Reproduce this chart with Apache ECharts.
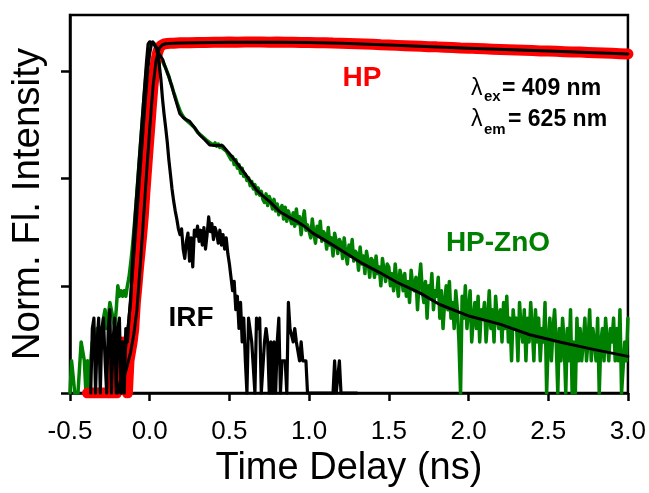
<!DOCTYPE html>
<html><head><meta charset="utf-8">
<script src="https://cdn.jsdelivr.net/npm/echarts@6/dist/echarts.min.js"></script>
<style>html,body{margin:0;padding:0;background:#fff}#c{width:649px;height:493px}</style>
</head><body><div id="c"></div>
<script>
// ---- axis ticks ----
const xTicks = [-0.5, 0.0, 0.5, 1.0, 1.5, 2.0, 2.5, 3.0];
const yTicks = [1, 10, 100, 1000];

// ---- HP-ZnO data (counts), time grid -0.50 .. 3.00 ns, 0.01 ns step ----
const znoStart = -0.5, znoStep = 0.01;
const znoCounts = [
  1,2,2,1,1,1,1,3,3,2,
  1,2,1,2,3,3,2,4,3,4,
  3,5,6,4,5,7,7,5,4,6,
  10,8,9,8,9,8,10,12,16,22,
  32,48,75,120,190,300,470,720,1050,1400,
  1700,1850,1885,1800,1680,1500,1420,1330,1250,1150,
  1080,980,900,800,720,640,580,520,470,430,
  400,380,360,370,340,350,320,330,300,290,
  270,280,255,250,240,235,225,230,215,220,
  205,215,200,210,195,205,190,195,180,170,
  170,150,160,135,150,125,135,112,125,105,
  110,96,102,86,94,80,88,72,82,70,
  76,64,60,72,56,68,62,52,64,50,
  58,46,52,56,42,54,40,50,48,38,
  48,36,52,38,44,30,41,50,33,37,
  38,28,42,31,25,36,29,40,26,32,
  30,22,35,24,28,19,31,26,20,27,
  25,18,28,20,16,24,19,27,17,21,
  20,14,23,16,19,13,21,17,12,18,
  17,12,19,13,15,10,18,14,11,16,
  15,10,13,9,16,11,8,14,12,9,
  13,8,11,7,14,10,9,12,6,11,
  16,9,7,11,5,10,8,13,6,9,
  8,12,5,9,4,7,10,6,11,5,
  7,4,9,6,3,1,8,5,10,4,
  6,9,3,5,7,4,8,3,6,5,
  7,3,5,9,4,6,3,8,5,4,
  6,3,7,4,8,3,5,2,6,4,
  5,2,7,4,3,6,2,5,3,7,
  4,2,6,3,5,2,4,3,7,1,
  3,5,2,4,6,3,1,4,2,5,
  3,1,4,2,6,1,3,1,5,2,
  4,2,3,5,2,3,6,2,4,3,
  2,5,1,3,4,2,5,3,2,4,
  3,5,2,4,2,6,1,1,3,2,
  5
];

// ---- IRF data (counts), time grid -0.37 .. 1.30 ns, 0.01 ns step ----
const irfStart = -0.37, irfStep = 0.01;
const irfCounts = [
  1,4,5,1,3,5,1,4,5,2,
  1,4,6,1,3,5,1,4,5,1,
  3,1,4,3,5,7,15,28,48,76,
  121,192,305,485,770,1225,1800,1885,1860,1820,
  1780,1700,1450,1150,850,560,400,300,220,150,
  110,80,62,50,42,34,30,34,22,18,
  26,31,17,28,15,33,29,36,26,33,
  24,35,22,30,44,32,38,27,35,31,
  25,33,24,30,22,28,20,16,12,9,
  11,6,8,4,7,3,5,2,1,5,
  5,3,3,1,5,4,5,1,1,3,
  4,3,1,3,1,3,1,3,5,1,
  2,2,2,1,7,4,4,3,4,3,
  3,2,3,2,2,2,1,1,1,1,
  1,1,1,1,1,1,1,1,1,1,
  1,1,1,2,1,1,2,1,1,1,
  1,1,1,1,1,1,1,1
];

// ---- HP data (counts): rise -0.39..0.20 (0.01 step), plateau 0.25..3.00 (0.05 step) ----
const hpRiseStart = -0.39, hpRiseStep = 0.01;
const hpRiseCounts = [
  1,1,1,1,1,1,1,1,1,1,
  1,1,1,1,1,1,1,2,1,1,
  2,3,2,3,2,1,2,2,3,4,
  7,10,15,21,30,45,75,120,190,295,
  470,720,1000,1280,1500,1650,1730,1780,1800,1810,
  1815,1820,1825,1830,1830,1835,1840,1840,1845,1845
];
const hpPlateauStart = 0.25, hpPlateauStep = 0.05;
const hpPlateauCounts = [
  1850,1860,1855,1870,1865,1875,1870,1880,1875,1880,
  1870,1875,1865,1870,1860,1855,1845,1850,1835,1830,
  1820,1810,1800,1790,1770,1760,1745,1735,1720,1710,
  1695,1690,1675,1665,1650,1645,1630,1620,1610,1600,
  1590,1580,1570,1560,1550,1545,1535,1525,1515,1510,
  1500,1490,1480,1470,1460,1450
];

// ---- fits ----
const hpFitTime = [-0.2,-0.15,-0.12,-0.1,-0.08,-0.06,-0.04,-0.02,0,0.02,0.04,0.06,0.08,0.1,0.15,0.2,0.3,0.5,0.8,1.0,1.2,1.5,2.0,2.5,3.0];
const hpFitCounts = [1,1.6,2.4,3.5,6,15,40,110,290,700,1260,1640,1770,1805,1825,1840,1850,1865,1870,1855,1830,1760,1645,1545,1450];
const znoFitTime = [-0.2,-0.16,-0.13,-0.11,-0.09,-0.07,-0.05,-0.03,-0.01,0.0,0.01,0.02,0.04,0.06,0.082,0.1,0.12,0.138,0.16,0.188,0.21,0.23,0.251,0.28,0.314,0.345,0.376,0.41,0.44,0.458,0.49,0.521,0.55,0.583,0.62,0.671,0.71,0.753,0.816,0.87,0.922,0.97,1.023,1.129,1.236,1.336,1.443,1.55,1.694,1.819,2.008,2.196,2.384,2.572,2.76,3.0];
const znoFitCounts = [1,2,5,12,30,75,190,480,1100,1450,1750,1885,1660,1445,1290,1070,890,731,560,405,370,355,342,300,255,230,206,203,203,202,178,157,138,119,100,78,69,61,49,44,40,36,31,25,19.9,16.1,13.3,10.8,8.6,6.7,5.2,4.4,3.5,3.0,2.6,2.2];

function grid(start, step, vals) { return vals.map((v, i) => [+(start + i * step).toFixed(3), v]); }
function pairs(ts, vs) { return ts.map((t, i) => [t, vs[i]]); }

const znoData = grid(znoStart, znoStep, znoCounts);
const irfData = grid(irfStart, irfStep, irfCounts);
const hpData = grid(hpRiseStart, hpRiseStep, hpRiseCounts).concat(grid(hpPlateauStart, hpPlateauStep, hpPlateauCounts));
const hpFit = pairs(hpFitTime, hpFitCounts);
const znoFit = pairs(znoFitTime, znoFitCounts);

const FONT = '"Liberation Sans", Arial, sans-serif';
const chart = echarts.init(document.getElementById('c'), null, {renderer: 'canvas'});
const line = (name, data, color, width, z) => ({
  type: 'line', name, data, showSymbol: false, symbol: 'none', z,
  lineStyle: {color, width, join: 'round', cap: 'round'}, emphasis: {disabled: true}, silent: true
});
chart.setOption({
  animation: false,
  backgroundColor: '#fff',
  grid: {left: 70, right: 20, top: 15, bottom: 93, show: true, borderColor: '#000', borderWidth: 2.5, backgroundColor: 'transparent'},
  xAxis: {
    type: 'value', min: -0.5, max: 3.0, interval: 0.5,
    axisLine: {onZero: false, lineStyle: {color: '#000', width: 2.5}},
    axisTick: {show: true, inside: false, length: 8, lineStyle: {color: '#000', width: 2.5}, customValues: xTicks},
    axisLabel: {fontSize: 26, color: '#000', fontFamily: FONT, margin: 26, showMinLabel: true, showMaxLabel: true,
      customValues: xTicks, formatter: v => v.toFixed(1)},
    splitLine: {show: false},
    name: 'Time Delay (ns)', nameLocation: 'middle', nameGap: 54,
    nameTextStyle: {fontSize: 38, color: '#000', fontFamily: FONT}
  },
  yAxis: {
    type: 'log', logBase: 10, min: 1, max: 3350,
    axisLine: {show: true, onZero: false, lineStyle: {color: '#000', width: 2.5}},
    axisTick: {show: true, inside: false, length: 9, lineStyle: {color: '#000', width: 2.5}, customValues: yTicks},
    axisLabel: {show: false},
    splitLine: {show: false}, minorTick: {show: false},
    name: 'Norm. Fl. Intensity', nameLocation: 'middle', nameGap: 22, nameRotate: 90,
    nameTextStyle: {fontSize: 38.5, color: '#000', fontFamily: FONT}
  },
  series: [
    line('HP-ZnO', znoData, '#008000', 3.5, 2),
    line('HP', hpData, '#ff0000', 11, 3),
    line('IRF', irfData, '#000000', 3.2, 4),
    line('HP-ZnO fit', znoFit, '#000000', 3, 5),
    line('HP fit', hpFit, '#000000', 3, 5)
  ],
  graphic: [
    {type: 'text', x: 362, y: 78, style: {text: 'HP', fill: '#ff0000', font: 'bold 28px ' + FONT, align: 'center', verticalAlign: 'middle', textAlign: 'center', textVerticalAlign: 'middle'}},
    {type: 'text', x: 498, y: 243, style: {text: 'HP-ZnO', fill: '#008000', font: 'bold 28px ' + FONT, align: 'center', verticalAlign: 'middle', textAlign: 'center', textVerticalAlign: 'middle'}},
    {type: 'text', x: 191, y: 318, style: {text: 'IRF', fill: '#000', font: 'bold 28px ' + FONT, align: 'center', verticalAlign: 'middle', textAlign: 'center', textVerticalAlign: 'middle'}},
    {type: 'text', x: 471, y: 89, style: {text: 'λ', fill: '#000', font: '23px ' + FONT, align: 'left', verticalAlign: 'middle', textAlign: 'left', textVerticalAlign: 'middle'}},
    {type: 'text', x: 484, y: 97, style: {text: 'ex', fill: '#000', font: 'bold 15px ' + FONT, align: 'left', verticalAlign: 'middle', textAlign: 'left', textVerticalAlign: 'middle'}},
    {type: 'text', x: 502, y: 89, style: {text: '= 409 nm', fill: '#000', font: 'bold 23px ' + FONT, align: 'left', verticalAlign: 'middle', textAlign: 'left', textVerticalAlign: 'middle'}},
    {type: 'text', x: 471, y: 120, style: {text: 'λ', fill: '#000', font: '23px ' + FONT, align: 'left', verticalAlign: 'middle', textAlign: 'left', textVerticalAlign: 'middle'}},
    {type: 'text', x: 484, y: 130, style: {text: 'em', fill: '#000', font: 'bold 15px ' + FONT, align: 'left', verticalAlign: 'middle', textAlign: 'left', textVerticalAlign: 'middle'}},
    {type: 'text', x: 508, y: 120, style: {text: '= 625 nm', fill: '#000', font: 'bold 23px ' + FONT, align: 'left', verticalAlign: 'middle', textAlign: 'left', textVerticalAlign: 'middle'}}
  ]
});
</script></body></html>
